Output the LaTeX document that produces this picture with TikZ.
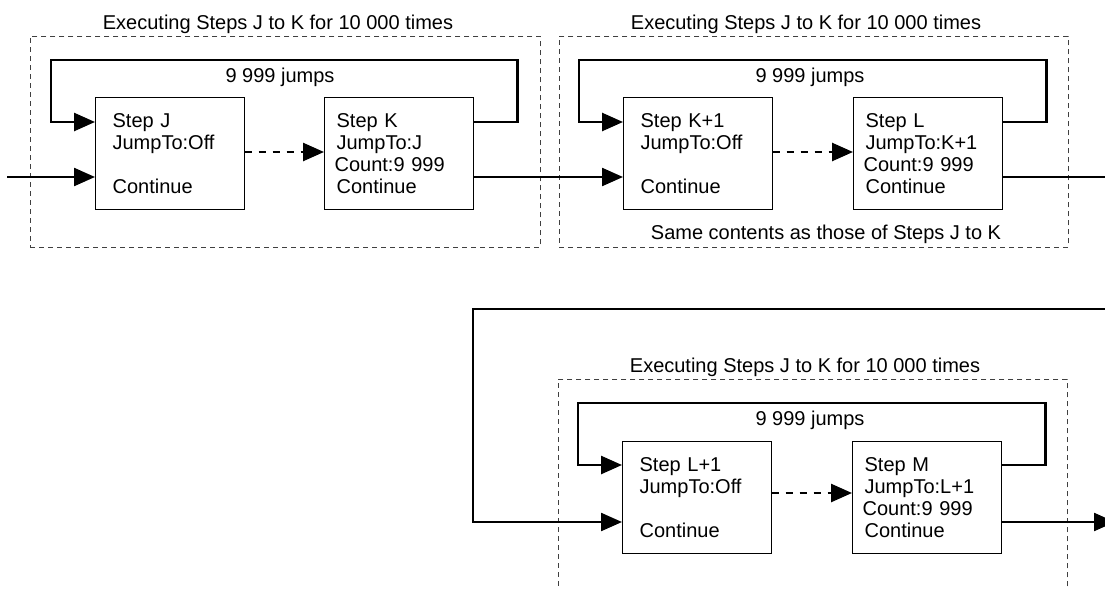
\documentclass[tikz,border=0pt]{standalone}
\usepackage{fontspec}
\setmainfont{Liberation Sans}
\usetikzlibrary{arrows.meta,calc}
\tikzset{
  txt/.style={font=\fontsize{20}{22}\selectfont, inner sep=0pt},
  stepbox/.style={draw, line width=1.2pt, minimum height=112pt, inner ysep=0pt,
    align=left, anchor=north west, font=\fontsize{20}{22}\selectfont},
  firstbox/.style={stepbox, inner xsep=17pt, text width=114.5pt},
  secondbox/.style={stepbox, inner xsep=12pt, text width=124.5pt},
  groupbox/.style={draw=black!75, line width=0.9pt, dash pattern=on 5pt off 4pt,
    anchor=north west, inner sep=0pt},
  tip/.style={-{Triangle[length=21pt,width=18pt]}},
  loopline/.style={line width=2.6pt, tip},
  flow/.style={line width=2.3pt},
  dasharrow/.style={line width=2.6pt, dash pattern=on 7pt off 7pt, tip},
}
\begin{document}
\begin{tikzpicture}[x=1pt,y=-1pt]
\useasboundingbox (0,0) rectangle (1105,589);
\clip (0,0) rectangle (1105,589);
\fill[white] (0,0) rectangle (1105,589);

% group boxes
\node[groupbox, minimum width=510pt, minimum height=211pt] (D1) at (30,36) {};
\node[groupbox, minimum width=509pt, minimum height=211pt] (D2) at (559,36) {};
\node[groupbox, minimum width=509pt, minimum height=211pt] (D3) at (558,379) {};

% titles
\node[txt, anchor=base] (T1) at (278,29) {Executing Steps J to K for 10 000 times};
\node[txt, anchor=base] (T2) at (806,29) {Executing Steps J to K for 10 000 times};
\node[txt, anchor=base] (T3) at (805,372) {Executing Steps J to K for 10 000 times};
\node[txt, anchor=base] (N1) at (280,82) {9 999 jumps};
\node[txt, anchor=base] (N2) at (810,82) {9 999 jumps};
\node[txt, anchor=base] (N3) at (810,425) {9 999 jumps};
\node[txt, anchor=base] (S2) at (826,239) {Same contents as those of Steps J to K};

% step boxes
\node[firstbox] (J) at (95,97) {Step J\\JumpTo:Off\\[22pt]Continue};
\node[secondbox] (K) at (324,97) {Step K\\JumpTo:J\\\hspace*{-2pt}Count:9 999\\Continue};
\node[firstbox] (K1) at (623,97) {Step K+1\\JumpTo:Off\\[22pt]Continue};
\node[secondbox] (L) at (853,97) {Step L\\JumpTo:K+1\\\hspace*{-2pt}Count:9 999\\Continue};
\node[firstbox] (L1) at (622,441) {Step L+1\\JumpTo:Off\\[22pt]Continue};
\node[secondbox] (M) at (852,441) {Step M\\JumpTo:L+1\\\hspace*{-2pt}Count:9 999\\Continue};

% free ends
\coordinate (in) at (7,177);
\coordinate (Lend) at (1107,177);
\coordinate (bigR) at (1107,309);
\coordinate (Mend) at (1115,522);

% jump loops
\draw[loopline] ($(K.north east)+(0,25)$) -| ($(K.north east)+(44,-37)$)
  -| ($(J.north west)+(-44,25)$) -- ($(J.north west)+(0,25)$);
\draw[loopline] ($(L.north east)+(0,25)$) -| ($(L.north east)+(44,-37)$)
  -| ($(K1.north west)+(-44,25)$) -- ($(K1.north west)+(0,25)$);
\draw[loopline] ($(M.north east)+(0,24)$) -| ($(M.north east)+(44,-38)$)
  -| ($(L1.north west)+(-44,24)$) -- ($(L1.north west)+(0,24)$);

% dashed arrows
\draw[dasharrow] ($(J.north east)+(0,55)$) -- ($(K.north west)+(0,55)$);
\draw[dasharrow] ($(K1.north east)+(0,55)$) -- ($(L.north west)+(0,55)$);
\draw[dasharrow] ($(L1.north east)+(0,52)$) -- ($(M.north west)+(0,52)$);

% main flow
\draw[flow, tip] (in) -- ($(J.north west)+(0,80)$);
\draw[flow, tip] ($(K.north east)+(0,80)$) -- ($(K1.north west)+(0,80)$);
\draw[flow] ($(L.north east)+(0,80)$) -- (Lend);
\draw[flow, tip] (bigR) -- (473,309) |- ($(L1.north west)+(0,81)$);
\draw[flow, tip] ($(M.north east)+(0,81)$) -- (Mend);
\end{tikzpicture}
\end{document}
